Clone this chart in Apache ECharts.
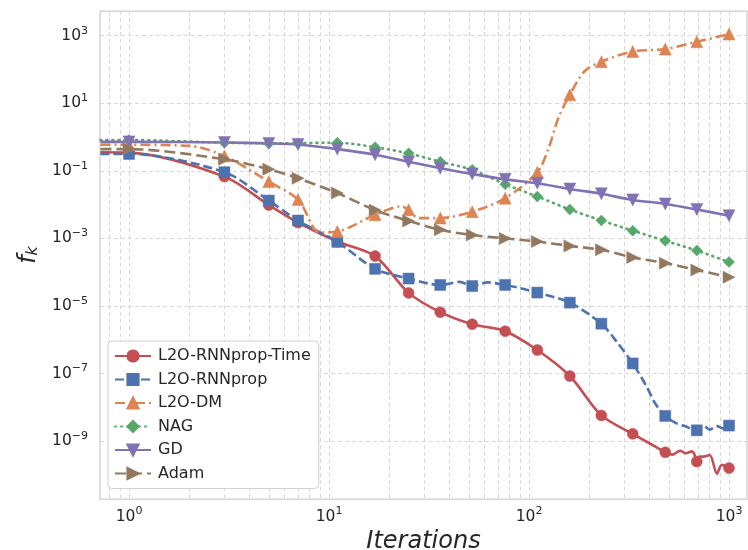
<!DOCTYPE html>
<html>
<head>
<meta charset="utf-8">
<script src="https://cdn.jsdelivr.net/npm/echarts@6/dist/echarts.min.js"></script>
<style>html,body{margin:0;padding:0;background:#fff;}#chart{width:748px;height:550px;}</style>
</head>
<body>
<div id="chart"></div>
<script>
// ---- data ----
const seriesNames = ['L2O-RNNprop-Time', 'L2O-RNNprop', 'L2O-DM', 'NAG', 'GD', 'Adam'];
const markerIters = [1, 3, 5, 7, 11, 17, 25, 36, 52, 76, 110, 160, 230, 330, 480, 690, 1000];

const itersRNNpropTime = [0.72, 1, 3, 5, 7, 11, 17, 25, 36, 52, 76, 110, 160, 230, 330, 400, 480, 520, 569, 610, 650, 670, 690, 715, 740, 800, 870, 920, 1000];
const valsRNNpropTime  = [0.355, 0.347, 0.0676, 0.00977, 0.00295, 8.1e-4, 3.0e-4, 2.45e-5, 6.6e-6, 2.9e-6, 1.8e-6, 5.0e-7, 8.5e-8, 5.8e-9, 1.66e-9, 8.7e-10, 4.7e-10, 4.0e-10, 5.2e-10, 4.4e-10, 5.0e-10, 4.2e-10, 2.5e-10, 3.5e-10, 3.5e-10, 3.9e-10, 1.1e-10, 2.0e-10, 1.6e-10];

const itersRNNprop = [0.72, 1, 3, 5, 7, 11, 17, 25, 36, 45, 52, 62, 76, 90, 110, 160, 230, 274, 330, 387, 426, 480, 540, 600, 690, 750, 800, 870, 930, 1000];
const valsRNNprop  = [0.316, 0.316, 0.0912, 0.0132, 0.00339, 7.9e-4, 1.26e-4, 6.5e-5, 4.2e-5, 5.2e-5, 3.9e-5, 5.0e-5, 4.2e-5, 3.4e-5, 2.5e-5, 1.26e-5, 3.0e-6, 8.9e-7, 2.0e-7, 4.2e-8, 1.35e-8, 5.6e-9, 3.5e-9, 2.8e-9, 2.1e-9, 2.8e-9, 2.2e-9, 2.8e-9, 2.4e-9, 2.9e-9];

const itersDM = [0.72, 1, 2, 3, 5, 7, 9, 11, 17, 23, 25, 28, 36, 52, 76, 110, 125, 140, 160, 190, 230, 330, 480, 690, 1000];
const valsDM  = [0.59, 0.59, 0.55, 0.275, 0.048, 0.0141, 1.5e-3, 1.6e-3, 5.0e-3, 8.9e-3, 7.1e-3, 4.0e-3, 4.0e-3, 6.2e-3, 0.0155, 0.091, 0.45, 3.6, 17.8, 90, 170, 340, 400, 660, 1120];

const itersNAG = [0.72, 1, 3, 5, 7, 11, 17, 25, 36, 52, 76, 110, 160, 230, 330, 480, 690, 1000];
const valsNAG  = [0.82, 0.82, 0.68, 0.65, 0.66, 0.68, 0.50, 0.33, 0.186, 0.107, 0.040, 0.0174, 0.0072, 0.0034, 0.0017, 8.5e-4, 4.4e-4, 2.0e-4];

const itersGD = [0.72, 1, 3, 5, 7, 11, 17, 25, 36, 52, 76, 110, 160, 230, 330, 480, 690, 1000];
const valsGD  = [0.72, 0.72, 0.69, 0.65, 0.60, 0.44, 0.30, 0.186, 0.120, 0.081, 0.056, 0.043, 0.029, 0.021, 0.0138, 0.0105, 0.0072, 0.0047];

const itersAdam = [0.72, 1, 3, 5, 7, 11, 17, 25, 36, 52, 76, 110, 160, 230, 330, 480, 690, 1000];
const valsAdam  = [0.44, 0.44, 0.22, 0.112, 0.060, 0.022, 0.0069, 0.0033, 0.0018, 0.00126, 0.0010, 8.1e-4, 6.0e-4, 4.6e-4, 2.75e-4, 1.86e-4, 1.17e-4, 7.1e-5];

// ---- tick values ----
const xGridTicks = [0.8, 0.9, 1, 2, 3, 4, 5, 6, 7, 8, 9, 10, 20, 30, 40, 50, 60, 70, 80, 90, 100, 200, 300, 400, 500, 600, 700, 800, 900, 1000];
const xLabelTicks = [1, 10, 100, 1000];
const yTicks = [1e-9, 1e-7, 1e-5, 1e-3, 1e-1, 1e1, 1e3];

// ---- styles ----
const colors = ['#C44E52', '#4C72B0', '#DD8452', '#55A868', '#8172B3', '#937860'];
const symbols = ['circle', 'rect', 'triangle', 'diamond', 'triangle', 'triangle'];
const rotates = [0, 0, 0, 0, 180, -90];
const sizes = [11, 11, 12, 11, 12, 12];
const dashes = ['solid', [9, 4], [10, 4, 2, 4], [1, 5], 'solid', [11, 5]];
const caps = ['butt', 'butt', 'butt', 'round', 'butt', 'butt'];
const allIters = [itersRNNpropTime, itersRNNprop, itersDM, itersNAG, itersGD, itersAdam];
const allVals = [valsRNNpropTime, valsRNNprop, valsDM, valsNAG, valsGD, valsAdam];

function expLabel(v) {
  const e = Math.round(Math.log10(v));
  const s = e < 0 ? '\u2212' + (-e) : String(e);
  return '{b|10}{e|' + s + '}';
}
const richTick = {
  b: { fontSize: 15.5, fontFamily: 'DejaVu Sans', color: '#262626' },
  e: { fontSize: 11, fontFamily: 'DejaVu Sans', color: '#262626', padding: [0, 0, 10, 0] }
};

const series = seriesNames.map((name, i) => ({
  name: name,
  type: 'line',
  smooth: 0.3,
  symbol: symbols[i],
  symbolSize: sizes[i],
  symbolRotate: rotates[i],
  showAllSymbol: true,
  lineStyle: { color: colors[i], width: 2.6, type: dashes[i], cap: caps[i] },
  itemStyle: { color: colors[i], borderColor: colors[i], borderWidth: 0.5, opacity: 1 },
  emphasis: { disabled: true },
  animation: false,
  data: allIters[i].map((x, j) => {
    const item = { value: [x, allVals[i][j]] };
    if (markerIters.indexOf(x) < 0) item.symbol = 'none';
    return item;
  })
}));

const chart = echarts.init(document.getElementById('chart'), null, { renderer: 'canvas' });
chart.setOption({
  backgroundColor: '#ffffff',
  animation: false,
  textStyle: { fontFamily: 'DejaVu Sans' },
  grid: { left: 100, right: 1, top: 11, bottom: 51, show: true, borderColor: '#cccccc', borderWidth: 1.25, containLabel: false, outerBoundsMode: 'none' },
  xAxis: {
    type: 'log',
    logBase: 10,
    min: 0.716,
    max: 1230,
    name: 'Iterations',
    nameLocation: 'middle',
    nameGap: 28,
    nameTextStyle: { fontSize: 24, fontStyle: 'italic', fontFamily: 'DejaVu Sans', color: '#262626' },
    axisLine: { show: false },
    axisTick: { show: false, customValues: xGridTicks },
    axisLabel: { customValues: xLabelTicks, margin: 7, formatter: v => expLabel(v), rich: richTick },
    splitLine: { show: true, lineStyle: { color: '#d4d4d4', width: 0.9, type: [4, 3] } },
    minorSplitLine: { show: false }
  },
  yAxis: {
    type: 'log',
    logBase: 10,
    min: Math.pow(10, -10.71),
    max: Math.pow(10, 3.73),
    name: '{f|f}{k|k}',
    nameLocation: 'middle',
    nameGap: 58,
    nameRotate: 90,
    nameTextStyle: {
      rich: {
        f: { fontSize: 24, fontStyle: 'italic', fontFamily: 'DejaVu Sans', color: '#262626' },
        k: { fontSize: 16, fontStyle: 'italic', fontFamily: 'DejaVu Sans', color: '#262626', padding: [9, 0, 0, 0] }
      }
    },
    axisLine: { show: false },
    axisTick: { show: false, customValues: yTicks },
    axisLabel: { customValues: yTicks, margin: 12, formatter: v => expLabel(v), rich: richTick },
    splitLine: { show: true, lineStyle: { color: '#d4d4d4', width: 0.9, type: [4, 3] } }
  },
  legend: {
    orient: 'vertical',
    left: 108,
    top: 341,
    itemWidth: 36,
    itemHeight: 14,
    itemGap: 7.5,
    padding: [7, 8, 7, 6],
    backgroundColor: '#ffffff',
    borderColor: '#d0d0d0',
    borderWidth: 1,
    borderRadius: 4,
    textStyle: { fontSize: 16, fontFamily: 'DejaVu Sans', color: '#262626', padding: [0, 0, 0, 2] },
    data: seriesNames
  },
  series: series
});
</script>
</body>
</html>
